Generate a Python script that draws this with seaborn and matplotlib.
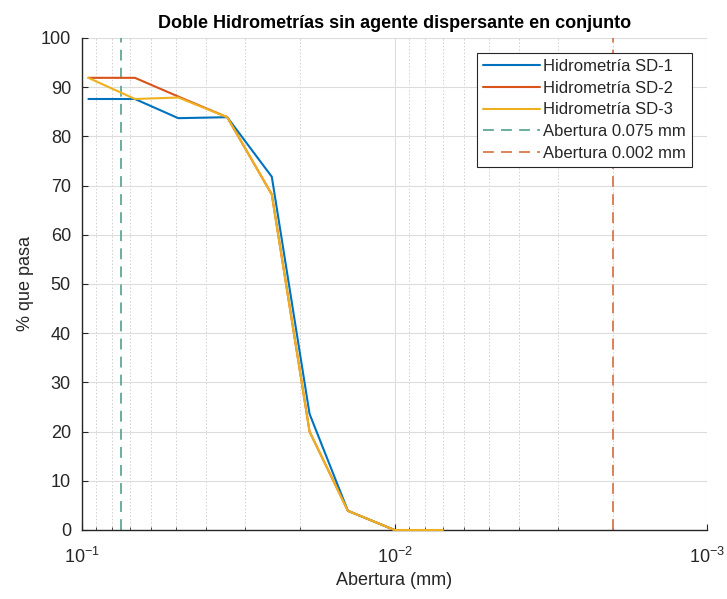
import matplotlib
matplotlib.use("Agg")
import matplotlib.pyplot as plt
from matplotlib.ticker import LogLocator, NullFormatter, MultipleLocator
import seaborn as sns
import pandas as pd

# Aperture (mm) and percent passing for each hydrometer test
abertura = [0.0954, 0.0677, 0.0492, 0.0343, 0.0247, 0.0187, 0.0141, 0.0100]
abertura_sd3 = [0.0954, 0.0677, 0.0492, 0.0343, 0.0247, 0.0187, 0.0141, 0.0100, 0.0070]
sd1 = [87.6, 87.6, 83.7, 83.9, 71.8, 23.6, 3.9, 0.0]
sd2 = [91.9, 91.9, 88.1, 83.9, 68.2, 20.0, 3.9, 0.0]
sd3 = [91.9, 87.6, 87.9, 83.9, 68.2, 20.0, 3.9, 0.0, 0.0]

series_names = ["Hidrometría SD-1", "Hidrometría SD-2", "Hidrometría SD-3"]
series_x = [abertura, abertura, abertura_sd3]
series_y = [sd1, sd2, sd3]
series_colors = ["#0072BD", "#D95319", "#EDB120"]

# Reference sieve openings
cortes = [0.075, 0.002]
cortes_labels = ["Abertura 0.075 mm", "Abertura 0.002 mm"]
cortes_colors = ["#5FA896", "#D9774A"]

sns.set_theme(style="white")
plt.rcParams["font.family"] = ["Liberation Sans", "DejaVu Sans"]
plt.rcParams["mathtext.fontset"] = "custom"
plt.rcParams["mathtext.rm"] = "Liberation Sans"
plt.rcParams["mathtext.it"] = "Liberation Sans:italic"
plt.rcParams["mathtext.bf"] = "Liberation Sans:bold"
plt.rcParams["mathtext.default"] = "regular"

fig = plt.figure(figsize=(7.27, 5.99), dpi=100)
ax = fig.add_axes([0.1128, 0.1152, 0.8597, 0.8214])

for name, xs, ys, c in zip(series_names, series_x, series_y, series_colors):
    df = pd.DataFrame({"x": xs, "y": ys})
    sns.lineplot(data=df, x="x", y="y", ax=ax, color=c, linewidth=1.5,
                 sort=False, label=name, estimator=None, zorder=3, clip_on=False)

for xv, lab, c in zip(cortes, cortes_labels, cortes_colors):
    ax.axvline(xv, color=c, linestyle=(0, (6, 4)), linewidth=1.3, label=lab, zorder=2)

ax.set_xscale("log")
ax.set_xlim(1e-1, 1e-3)
ax.set_ylim(0, 100)
ax.yaxis.set_major_locator(MultipleLocator(10))
ax.xaxis.set_major_locator(LogLocator(base=10, numticks=10))
ax.xaxis.set_minor_locator(LogLocator(base=10, subs=range(2, 10), numticks=20))
ax.xaxis.set_minor_formatter(NullFormatter())

ax.grid(True, which="major", color="#dcdcdc", linewidth=0.8, linestyle="-")
ax.grid(True, which="minor", axis="x", color="#d0d0d0", linewidth=0.7, linestyle=(0, (1.5, 2)))
ax.set_axisbelow(True)

for s in ["top", "right"]:
    ax.spines[s].set_visible(False)
for s in ["left", "bottom"]:
    ax.spines[s].set_color("#262626")
    ax.spines[s].set_linewidth(1.0)

ax.tick_params(axis="y", which="major", direction="in", length=4, width=0.8,
               color="#262626", labelsize=13, labelcolor="#262626",
               left=True, pad=8)
ax.tick_params(axis="x", which="major", direction="in", length=4, width=0.8,
               color="#262626", labelsize=13, labelcolor="#262626",
               bottom=True, pad=12)
ax.tick_params(axis="x", which="minor", direction="in", length=2.5, width=0.6,
               color="#262626", bottom=True)

ax.set_xlabel("Abertura (mm)", fontsize=13, color="#262626", labelpad=4)
ax.set_ylabel("% que pasa", fontsize=13, color="#262626", labelpad=5)
ax.set_title("Doble Hidrometrías sin agente dispersante en conjunto",
             fontsize=13, fontweight="bold", color="#000000", pad=7)

leg = ax.legend(loc="upper right", bbox_to_anchor=(0.9755, 0.969), fontsize=12,
                frameon=True, fancybox=False, framealpha=1, edgecolor="#262626",
                borderpad=0.35, labelspacing=0.4, handlelength=3.4, handletextpad=0.2,
                borderaxespad=0)
leg.get_frame().set_linewidth(0.8)

fig.savefig("out.png", dpi=100)
